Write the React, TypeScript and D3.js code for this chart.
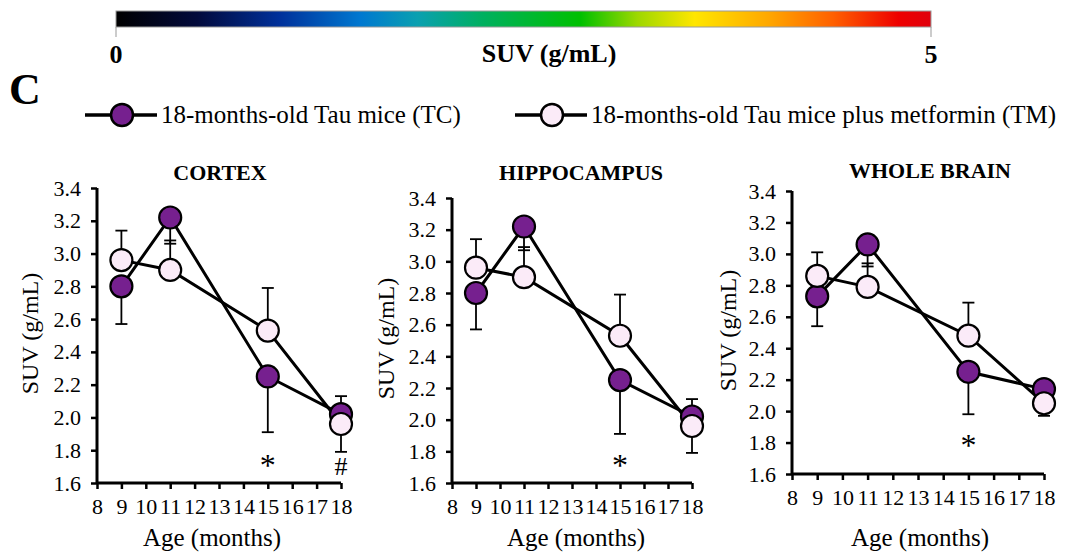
import { useEffect, useRef } from 'react'
import * as d3 from 'd3'

// x = age in months, values = SUV (g/mL)
const ages = [9, 11, 15, 18]
const xTicks = [8, 9, 10, 11, 12, 13, 14, 15, 16, 17, 18]
const yTicks = [1.6, 1.8, 2.0, 2.2, 2.4, 2.6, 2.8, 3.0, 3.2, 3.4]
const regionNames = ['CORTEX', 'HIPPOCAMPUS', 'WHOLE BRAIN']

const cortexTC = [2.8, 3.22, 2.25, 2.02]
const cortexTCErr = [0.23, 0.16, 0.34, 0.11]
const cortexTM = [2.96, 2.9, 2.53, 1.96]
const cortexTMErr = [0.18, 0.18, 0.26, 0.17]

const hippoTC = [2.8, 3.22, 2.25, 2.02]
const hippoTCErr = [0.23, 0.15, 0.34, 0.11]
const hippoTM = [2.96, 2.9, 2.53, 1.96]
const hippoTMErr = [0.18, 0.19, 0.26, 0.17]

const wholeTC = [2.73, 3.06, 2.25, 2.14]
const wholeTCErr = [0.19, 0.14, 0.27, 0.04]
const wholeTM = [2.86, 2.79, 2.48, 2.05]
const wholeTMErr = [0.15, 0.15, 0.21, 0.08]

// error bars are one-sided: TC goes down except at 18, TM the opposite
const tcDir = [-1, -1, -1, 1]
const tmDir = [1, 1, 1, -1]

const cortexMarks = [
  { age: 15, v: 1.75, s: '*' },
  { age: 18, v: 1.7, s: '#' },
]
const hippoMarks = [{ age: 15, v: 1.76, s: '*' }]
const wholeMarks = [{ age: 15, v: 1.83, s: '*' }]

const legendLabels = [
  '18-months-old Tau mice (TC)',
  '18-months-old Tau mice plus metformin (TM)',
]

const colorStops = [
  [0, '#000000'],
  [0.1, '#020a3c'],
  [0.2, '#00309a'],
  [0.3, '#0078d0'],
  [0.37, '#0aa0b0'],
  [0.45, '#00b060'],
  [0.57, '#00c000'],
  [0.64, '#9ed800'],
  [0.71, '#ffe600'],
  [0.8, '#ffa800'],
  [0.88, '#ff6000'],
  [0.96, '#ee0000'],
  [1, '#e0000c'],
]

const FONT = '"Liberation Serif", "Times New Roman", serif'
const PURPLE = '#76208f'
const PINK = '#fbebf8'

const panels = [
  {
    name: regionNames[0], tc: cortexTC, tcErr: cortexTCErr, tm: cortexTM, tmErr: cortexTMErr, marks: cortexMarks,
    x0: 97, x1: 341, yTop: 188, yBot: 483, titleX: 220, titleY: 180, ylabX: 30, ageX: 212,
  },
  {
    name: regionNames[1], tc: hippoTC, tcErr: hippoTCErr, tm: hippoTM, tmErr: hippoTMErr, marks: hippoMarks,
    x0: 452, x1: 692, yTop: 198, yBot: 483, titleX: 581, titleY: 180, ylabX: 386, ageX: 576,
  },
  {
    name: regionNames[2], tc: wholeTC, tcErr: wholeTCErr, tm: wholeTM, tmErr: wholeTMErr, marks: wholeMarks,
    x0: 792, x1: 1044, yTop: 191, yBot: 474, titleX: 930, titleY: 178, ylabX: 728, ageX: 920,
  },
]

const App = () => {
  const svgRef = useRef(null)

  useEffect(() => {
    const svg = d3.select(svgRef.current)
    svg.selectAll('*').remove()

    // colour bar
    const defs = svg.append('defs')
    const grad = defs.append('linearGradient').attr('id', 'suvgrad')
    colorStops.forEach(([o, c]) => {
      grad.append('stop').attr('offset', o).attr('stop-color', c)
    })
    const cb = d3.scaleLinear().domain([0, 5]).range([116, 931])
    svg.append('rect')
      .attr('x', cb(0)).attr('y', 11)
      .attr('width', cb(5) - cb(0)).attr('height', 16)
      .attr('fill', 'url(#suvgrad)')
      .attr('stroke', '#9a9a9a').attr('stroke-width', 1)
    ;[0, 5].forEach((v) => {
      svg.append('line')
        .attr('x1', cb(v)).attr('x2', cb(v)).attr('y1', 27).attr('y2', 37)
        .attr('stroke', '#999').attr('stroke-width', 1)
      svg.append('text')
        .attr('x', cb(v)).attr('y', 63)
        .attr('text-anchor', 'middle')
        .style('font', `bold 26px ${FONT}`)
        .text(v)
    })
    svg.append('text')
      .attr('x', 549).attr('y', 62)
      .attr('text-anchor', 'middle')
      .style('font', `bold 26px ${FONT}`)
      .text('SUV (g/mL)')

    svg.append('text')
      .attr('x', 9).attr('y', 104)
      .style('font', `bold 44px ${FONT}`)
      .text('C')

    // legend
    const legX = [85, 515]
    legendLabels.forEach((lab, i) => {
      const g = svg.append('g').attr('transform', `translate(${legX[i]},115)`)
      g.append('line').attr('x1', 0).attr('x2', 72).attr('y1', 0).attr('y2', 0)
        .attr('stroke', '#000').attr('stroke-width', 3.5)
      g.append('circle').attr('cx', 37).attr('cy', 0).attr('r', 11)
        .attr('fill', i === 0 ? PURPLE : PINK)
        .attr('stroke', '#000').attr('stroke-width', 2.5)
      g.append('text').attr('x', 76).attr('y', 8)
        .style('font', `25px ${FONT}`)
        .text(lab)
    })

    panels.forEach((p) => {
      const x = d3.scaleLinear().domain([8, 18]).range([p.x0, p.x1])
      const y = d3.scaleLinear().domain([1.6, 3.4]).range([p.yBot, p.yTop])
      const g = svg.append('g')

      g.append('text')
        .attr('x', p.titleX).attr('y', p.titleY)
        .attr('text-anchor', 'middle')
        .style('font', `bold 22px ${FONT}`)
        .text(p.name)

      // axes
      const yAxis = g.append('g')
        .attr('transform', `translate(${p.x0},0)`)
        .call(d3.axisLeft(y).tickValues(yTicks).tickFormat(d3.format('.1f')).tickSize(6).tickPadding(10))
      const xAxis = g.append('g')
        .attr('transform', `translate(0,${p.yBot})`)
        .call(d3.axisBottom(x).tickValues(xTicks).tickFormat(d3.format('d')).tickSize(6).tickPadding(9))
      ;[yAxis, xAxis].forEach((ax) => {
        ax.select('.domain').attr('stroke', '#000').attr('stroke-width', 3)
          .attr('d', (ax === yAxis)
            ? `M0,${p.yTop}V${p.yBot}`
            : `M${p.x0},0H${p.x1}`)
        ax.selectAll('.tick line').attr('stroke', '#000').attr('stroke-width', 2.5)
        ax.selectAll('.tick text').attr('fill', '#000')
          .style('font', `22px ${FONT}`)
      })

      g.append('text')
        .attr('transform', `translate(${p.ylabX},${(p.yTop + p.yBot) / 2 - 2}) rotate(-90)`)
        .attr('text-anchor', 'middle')
        .attr('dominant-baseline', 'central')
        .style('font', `24px ${FONT}`)
        .text('SUV (g/mL)')
      g.append('text')
        .attr('x', p.ageX).attr('y', 546)
        .attr('text-anchor', 'middle')
        .style('font', `25px ${FONT}`)
        .text('Age (months)')

      const line = d3.line().x((d) => x(d[0])).y((d) => y(d[1]))
      const series = [
        { vals: p.tc, err: p.tcErr, dir: tcDir, fill: PURPLE },
        { vals: p.tm, err: p.tmErr, dir: tmDir, fill: PINK },
      ]

      series.forEach((s) => {
        g.append('path')
          .datum(ages.map((a, i) => [a, s.vals[i]]))
          .attr('d', line)
          .attr('fill', 'none')
          .attr('stroke', '#000')
          .attr('stroke-width', 3)
      })

      series.forEach((s) => {
        ages.forEach((a, i) => {
          const end = s.vals[i] + s.dir[i] * s.err[i]
          g.append('line')
            .attr('x1', x(a)).attr('x2', x(a))
            .attr('y1', y(s.vals[i])).attr('y2', y(end))
            .attr('stroke', '#000').attr('stroke-width', 1.8)
          g.append('line')
            .attr('x1', x(a) - 6).attr('x2', x(a) + 6)
            .attr('y1', y(end)).attr('y2', y(end))
            .attr('stroke', '#000').attr('stroke-width', 1.8)
        })
      })

      series.forEach((s) => {
        g.selectAll(null)
          .data(ages.map((a, i) => [a, s.vals[i]]))
          .enter()
          .append('circle')
          .attr('cx', (d) => x(d[0]))
          .attr('cy', (d) => y(d[1]))
          .attr('r', 11)
          .attr('fill', s.fill)
          .attr('stroke', '#000')
          .attr('stroke-width', 2.2)
      })

      p.marks.forEach((m) => {
        g.append('text')
          .attr('x', x(m.age)).attr('y', y(m.v))
          .attr('text-anchor', 'middle')
          .attr('dominant-baseline', 'central')
          .style('font', `${m.s === '*' ? 32 : 26}px ${FONT}`)
          .attr('dy', m.s === '*' ? 7 : 0)
          .text(m.s)
      })
    })
  }, [])

  return (
    <div style={{ position: 'absolute', left: 0, top: 0, background: '#fff' }}>
      <svg ref={svgRef} width={1074} height={553} style={{ display: 'block' }}></svg>
    </div>
  )
}

export default App
